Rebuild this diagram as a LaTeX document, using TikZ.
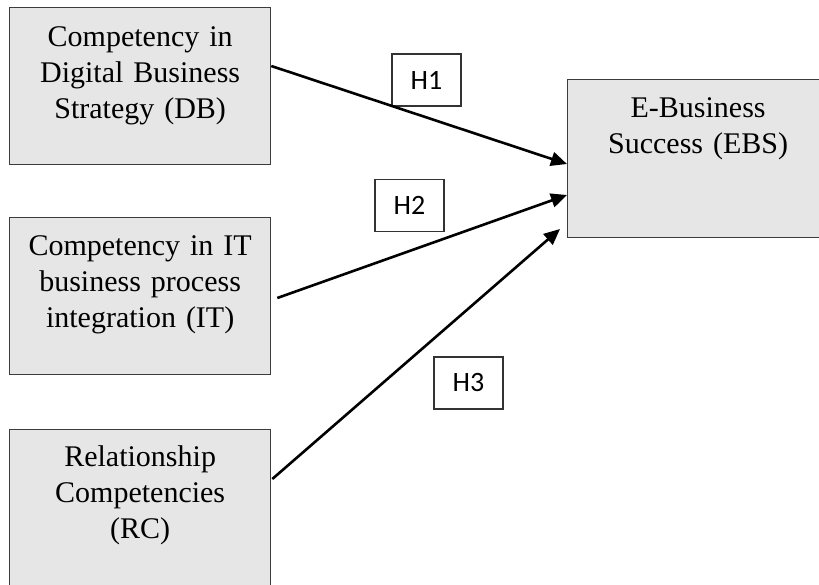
\documentclass[tikz,border=0pt]{standalone}
\usepackage{fontspec}
\setmainfont{Liberation Serif}
\newfontfamily\hfont{Carlito}
\usetikzlibrary{arrows.meta,calc}
\definecolor{boxfill}{RGB}{230,230,230}
\definecolor{boxline}{RGB}{60,60,60}
\tikzset{
  conbox/.style={draw=boxline, line width=1.3pt, fill=boxfill, minimum width=261pt, minimum height=157pt, inner sep=0pt, anchor=north west},
  contxt/.style={text width=255pt, align=center, inner sep=0pt, anchor=base, font=\fontsize{30}{36}\selectfont},
  hbox/.style={draw=black!80, line width=1.2pt, minimum width=69pt, minimum height=52pt, inner sep=0pt, font=\hfont\fontsize{28}{32}\selectfont},
  link/.style={line width=2.6pt, -{Triangle[length=16pt,width=14pt]}}
}
\begin{document}
\begin{tikzpicture}[x=1pt,y=-1pt]
\useasboundingbox (0,0) rectangle (819,584);
\clip (0,0) rectangle (819,584);
\node[conbox] (db) at (9,7) {};
\node[conbox] (it) at (9,217) {};
\node[conbox, minimum height=180pt] (rc) at (9,429) {};
\node[conbox, minimum height=158pt] (ebs) at (567,79) {};
\node[contxt] (dbt) at ($(db.north)+(0,39)$) {Competency in\\Digital Business\\Strategy (DB)};
\node[contxt] (itt) at ($(it.north)+(0,38)$) {Competency in IT\\business process\\integration (IT)};
\node[contxt] (rct) at ($(rc.north)+(0,37)$) {Relationship\\Competencies\\(RC)};
\node[contxt] (ebst) at ($(ebs.north)+(0,38)$) {E-Business\\Success (EBS)};
\node[hbox] (h1) at (426.5,80) {H1};
\node[hbox] (h2) at (409.5,205.5) {H2};
\node[hbox] (h3) at (468.5,383) {H3};
\coordinate (s1) at ($(db.north east)+(0,59)$);
\coordinate (e1) at ($(ebs.north west)+(0,85)$);
\coordinate (s2) at ($(it.north east)+(6,81)$);
\coordinate (e2) at ($(ebs.north west)+(0,116)$);
\coordinate (s3) at ($(rc.north east)+(1,50)$);
\coordinate (e3) at ($(ebs.north west)+(-7,150)$);
\draw[link] (s1) -- (e1);
\draw[link] (s2) -- (e2);
\draw[link] (s3) -- (e3);
\end{tikzpicture}
\end{document}
